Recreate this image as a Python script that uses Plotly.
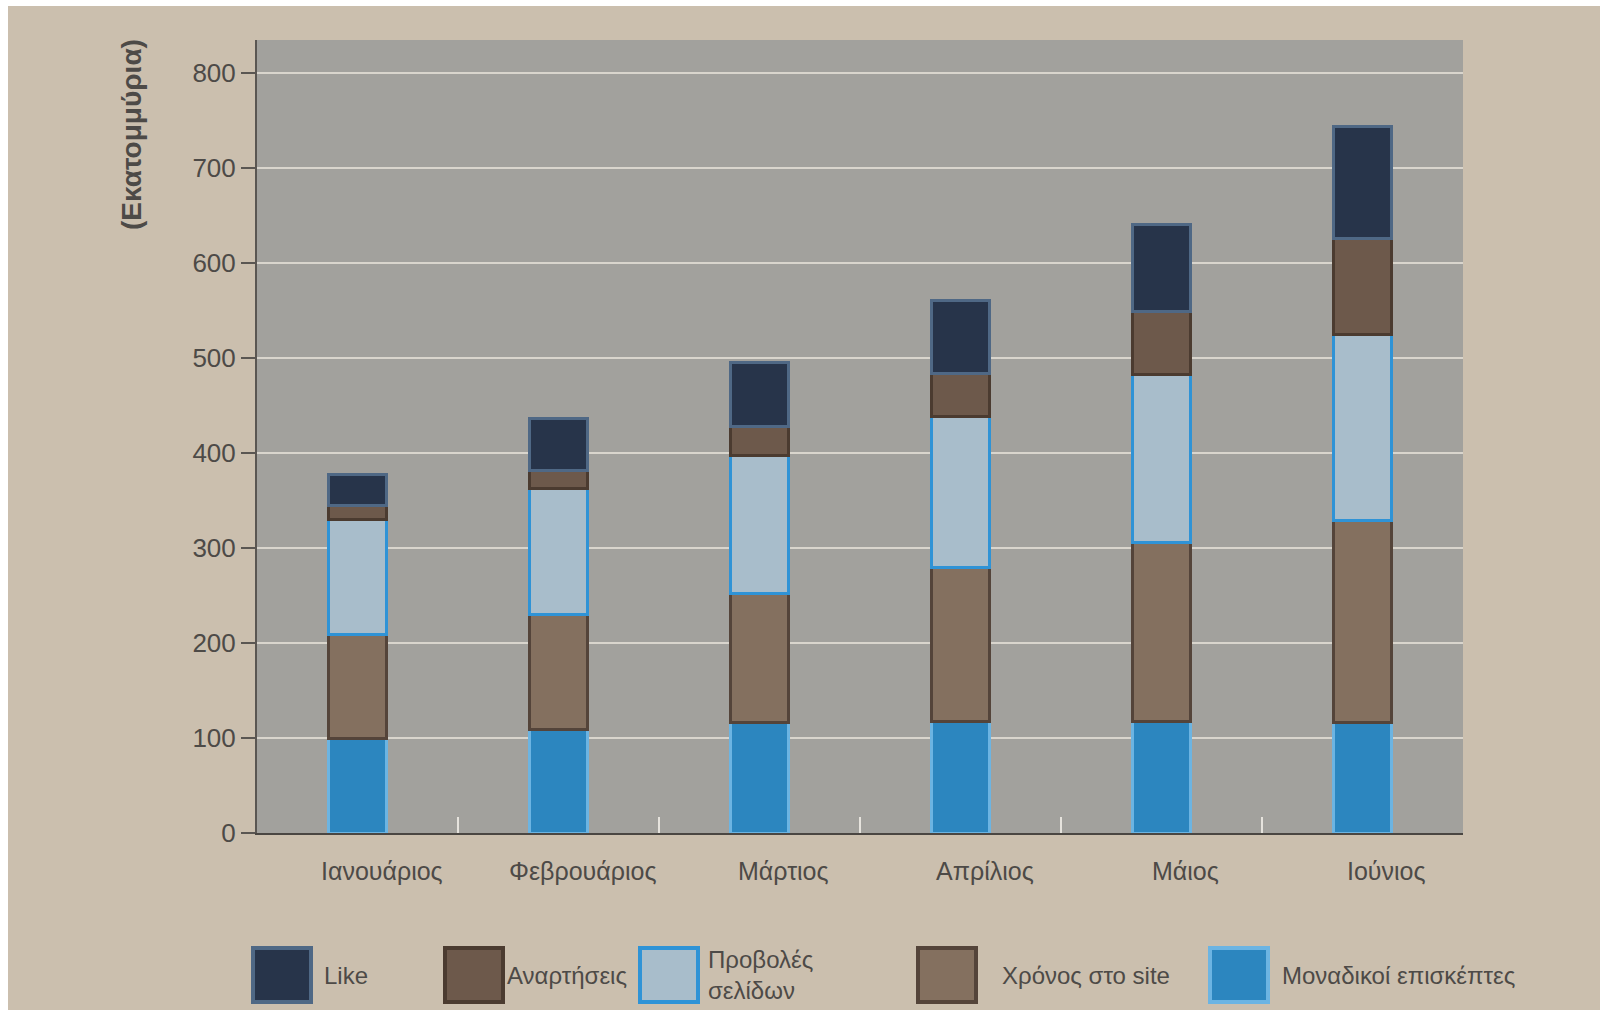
import plotly.graph_objects as go

months = ["Ιανουάριος", "Φεβρουάριος", "Μάρτιος", "Απρίλιος", "Μάιος", "Ιούνιος"]

# stacked from bottom to top
unique_visitors = [99, 109, 116, 117, 117, 116]
time_on_site = [110, 121, 136, 163, 189, 213]
page_views = [121, 133, 145, 159, 177, 196]
posts = [15, 19, 31, 45, 66, 101]
likes = [33, 54, 67, 77, 92, 118]

series_names = ["Μοναδικοί επισκέπτες", "Χρόνος στο site", "Προβολές σελίδων", "Αναρτήσεις", "Like"]
series_values = [unique_visitors, time_on_site, page_views, posts, likes]
fill_colors = ["#2c86bf", "#84705f", "#a8bdcb", "#6d594b", "#27344a"]
edge_colors = ["#6cb4e2", "#54443a", "#2f93d6", "#4b3b30", "#4f6885"]

y_ticks = [0, 100, 200, 300, 400, 500, 600, 700, 800]

# legend order as shown in the picture
legend_order = ["Like", "Αναρτήσεις", "Προβολές σελίδων", "Χρόνος στο site", "Μοναδικοί επισκέπτες"]
legend_labels = {"Like": "Like", "Αναρτήσεις": "Αναρτήσεις", "Προβολές σελίδων": "Προβολές<br>σελίδων",
                 "Χρόνος στο site": "Χρόνος στο site", "Μοναδικοί επισκέπτες": "Μοναδικοί επισκέπτες"}

FONT = "Liberation Sans, Arial, sans-serif"
TXT = "#4d4a47"

fig = go.Figure()
for name, vals, fc, ec in zip(series_names, series_values, fill_colors, edge_colors):
    fig.add_trace(go.Bar(
        x=months, y=vals, name=name,
        marker=dict(color=fc, line=dict(color=ec, width=3)),
        width=0.29, showlegend=False,
    ))

L, R, T, B = 257, 137, 40, 182
PW, PH = 1600 - L - R, 1015 - T - B
def px_x(p): return (p - L) / PW
def px_y(p): return (1015 - B - p) / PH

# white photo border strips outside the plot area
shapes = [
    dict(type="rect", xref="paper", yref="paper", x0=px_x(0), x1=px_x(1600), y0=px_y(6), y1=px_y(0),
         fillcolor="white", line=dict(width=0)),
    dict(type="rect", xref="paper", yref="paper", x0=px_x(0), x1=px_x(8), y0=px_y(1015), y1=px_y(0),
         fillcolor="white", line=dict(width=0)),
    dict(type="rect", xref="paper", yref="paper", x0=px_x(0), x1=px_x(1600), y0=px_y(1015), y1=px_y(1010),
         fillcolor="white", line=dict(width=0)),
]

annotations = []
# y title
annotations.append(dict(text="<b>(Εκατομμύρια)</b>", xref="paper", yref="paper",
                        x=px_x(131), y=px_y(135), xanchor="center", yanchor="middle",
                        textangle=-90, showarrow=False,
                        font=dict(family=FONT, size=28, color=TXT)))
# month labels (slightly offset right as in the print)
for m in months:
    annotations.append(dict(text=m, x=m, xref="x", yref="paper", y=0, yanchor="top",
                            yshift=-22, xshift=24, showarrow=False,
                            font=dict(family=FONT, size=25, color=TXT)))

# custom legend with large swatches
legend_sw_x = [253, 445, 640, 918, 1210]
legend_tx_x = [322, 505, 706, 1000, 1280]
for nm, sx, tx in zip(legend_order, legend_sw_x, legend_tx_x):
    i = series_names.index(nm)
    shapes.append(dict(type="rect", xref="paper", yref="paper",
                       x0=px_x(sx), x1=px_x(sx + 58), y0=px_y(1002), y1=px_y(948),
                       fillcolor=fill_colors[i], line=dict(color=edge_colors[i], width=4)))
    annotations.append(dict(text=legend_labels[nm], xref="paper", yref="paper",
                            x=px_x(tx), y=px_y(975), xanchor="left", yanchor="middle",
                            align="left", showarrow=False,
                            font=dict(family=FONT, size=24, color=TXT)))

fig.update_layout(
    width=1600, height=1015,
    margin=dict(l=L, r=R, t=T, b=B),
    paper_bgcolor="#cbbfae",
    plot_bgcolor="#a2a19d",
    barmode="stack",
    font=dict(family=FONT, color=TXT),
    shapes=shapes,
    annotations=annotations,
    xaxis=dict(showticklabels=False, ticks="inside", tickson="boundaries",
               ticklen=16, tickcolor="#e6e3dd", tickwidth=2,
               showline=True, linecolor="#4a4642", linewidth=2,
               showgrid=False, range=[-0.5, 5.5]),
    yaxis=dict(range=[0, 835], tickvals=y_ticks, ticks="outside", ticklen=14,
               tickcolor="#5a5652", tickwidth=2,
               tickfont=dict(family=FONT, size=26, color=TXT),
               showline=True, linecolor="#5a5652", linewidth=2,
               showgrid=True, gridcolor="#d9d5cd", gridwidth=2, zeroline=False),
)

fig.write_html("out.html")
